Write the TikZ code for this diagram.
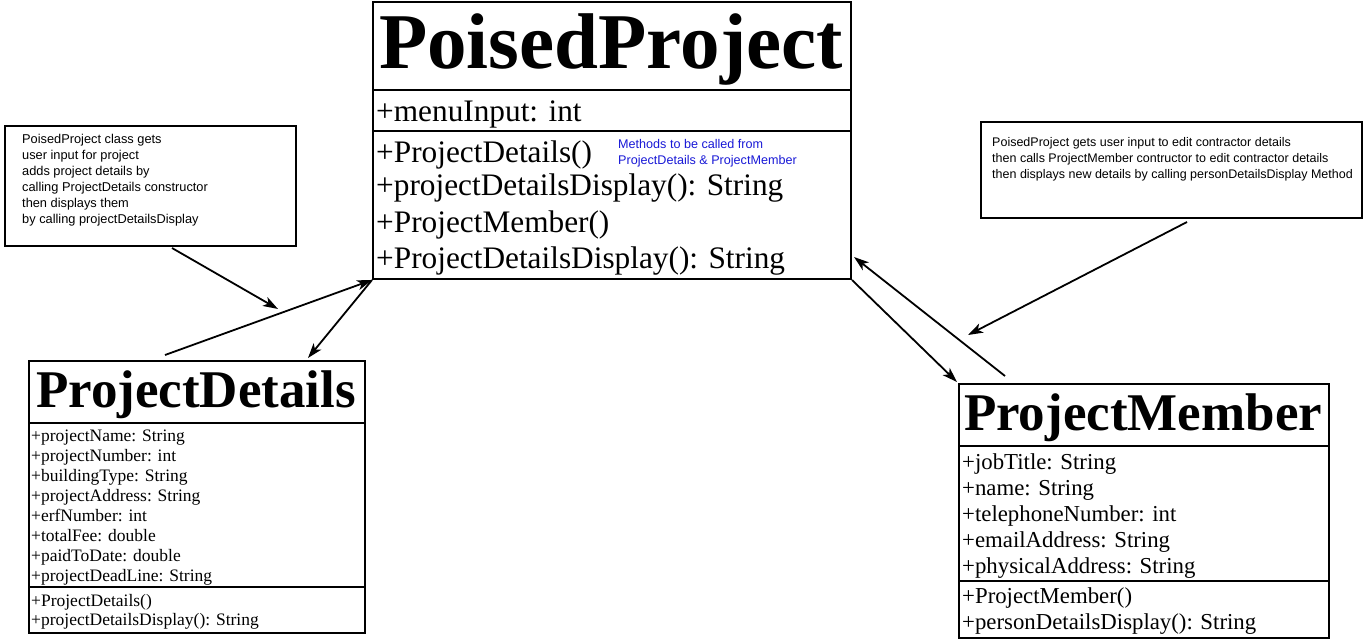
\documentclass[tikz,border=0pt]{standalone}
\usepackage{fontspec}
\setmainfont{Liberation Serif}
\newfontfamily\notefont{Liberation Sans}
\usetikzlibrary{arrows.meta}
\definecolor{noteblue}{RGB}{25,25,215}
\begin{document}
\begin{tikzpicture}[x=1pt,y=-1pt,
  box/.style={draw, line width=2pt, inner sep=0pt, anchor=north west},
  divider/.style={line width=2pt},
  txt/.style={inner sep=0pt, anchor=base west},
  bigtitle/.style={inner sep=0pt, anchor=base, font=\bfseries\fontsize{79}{79}\selectfont},
  ttl/.style={inner sep=0pt, anchor=base, font=\bfseries\fontsize{53}{53}\selectfont},
  ppfont/.style={txt, font=\fontsize{31.3}{32}\selectfont},
  pdfont/.style={txt, font=\fontsize{17.5}{18}\selectfont},
  pmfont/.style={txt, font=\fontsize{22.8}{23}\selectfont},
  note/.style={inner sep=0pt, anchor=base west, font=\notefont\fontsize{12.8}{16}\selectfont},
  rnote/.style={note, font=\notefont\fontsize{12.5}{16}\selectfont},
  bluenote/.style={note, text=noteblue, font=\notefont\fontsize{12.6}{16}\selectfont},
  conn/.style={line width=1.8pt, -{Stealth[length=15pt,width=10pt,inset=4pt]}},
]
\useasboundingbox (0,0) rectangle (1364,640);
\fill[white] (0,0) rectangle (1364,640);

% PoisedProject
\node[box, minimum width=478pt, minimum height=277pt] (pp) at (372,1) {};
\draw[divider] (372,90) -- (850,90);
\draw[divider] (372,131) -- (850,131);
\node[bigtitle] (ppt) at (611,68) {PoisedProject};
\node[ppfont] (ppa) at (376,121) {+menuInput: int};
\node[ppfont] (ppm1) at (376,162) {+ProjectDetails()};
\node[ppfont] (ppm2) at (376,195) {+projectDetailsDisplay(): String};
\node[ppfont] (ppm3) at (376,232) {+ProjectMember()};
\node[ppfont] (ppm4) at (376,268) {+ProjectDetailsDisplay(): String};
\node[bluenote] (bl1) at (618,148) {Methods to be called from};
\node[bluenote] (bl2) at (618,164) {ProjectDetails \& ProjectMember};

% left note
\node[box, minimum width=291pt, minimum height=120pt] (ln) at (4,125) {};
\node[note] (ln1) at (22,143) {PoisedProject class gets};
\node[note] (ln2) at (22,159) {user input for project};
\node[note] (ln3) at (22,175) {adds project details by};
\node[note] (ln4) at (22,191) {calling ProjectDetails constructor};
\node[note] (ln5) at (22,207) {then displays them};
\node[note] (ln6) at (22,223) {by calling projectDetailsDisplay};

% right note
\node[box, minimum width=381pt, minimum height=96pt] (rn) at (980,121) {};
\node[rnote] (rn1) at (992,146) {PoisedProject gets user input to edit contractor details};
\node[rnote] (rn2) at (992,162) {then calls ProjectMember contructor to edit contractor details};
\node[rnote] (rn3) at (992,178) {then displays new details by calling personDetailsDisplay Method};

% ProjectDetails
\node[box, minimum width=336pt, minimum height=272pt] (pd) at (28,360) {};
\draw[divider] (28,423) -- (364,423);
\draw[divider] (28,587) -- (364,587);
\node[ttl] (pdt) at (196,407) {ProjectDetails};
\node[pdfont] (pda1) at (31,441) {+projectName: String};
\node[pdfont] (pda2) at (31,461) {+projectNumber: int};
\node[pdfont] (pda3) at (31,481) {+buildingType: String};
\node[pdfont] (pda4) at (31,501) {+projectAddress: String};
\node[pdfont] (pda5) at (31,521) {+erfNumber: int};
\node[pdfont] (pda6) at (31,541) {+totalFee: double};
\node[pdfont] (pda7) at (31,561) {+paidToDate: double};
\node[pdfont] (pda8) at (31,581) {+projectDeadLine: String};
\node[pdfont] (pdm1) at (31,606) {+ProjectDetails()};
\node[pdfont] (pdm2) at (31,625) {+projectDetailsDisplay(): String};

% ProjectMember
\node[box, minimum width=370pt, minimum height=254pt] (pm) at (958,383) {};
\draw[divider] (958,446) -- (1328,446);
\draw[divider] (958,581) -- (1328,581);
\node[ttl] (pmt) at (1143,430) {ProjectMember};
\node[pmfont] (pma1) at (962,469) {+jobTitle: String};
\node[pmfont] (pma2) at (962,495) {+name: String};
\node[pmfont] (pma3) at (962,521) {+telephoneNumber: int};
\node[pmfont] (pma4) at (962,547) {+emailAddress: String};
\node[pmfont] (pma5) at (962,573) {+physicalAddress: String};
\node[pmfont] (pmm1) at (962,603) {+ProjectMember()};
\node[pmfont] (pmm2) at (962,629) {+personDetailsDisplay(): String};

% connectors
\coordinate (a1s) at (172,248);
\coordinate (a1e) at (278,309);
\coordinate (a2s) at (165,355);
\coordinate (a3e) at (308,358);
\coordinate (a4e) at (957,382);
\coordinate (a5s) at (1005,376);
\coordinate (a5e) at (854,257);
\coordinate (a6s) at (1187,222);
\coordinate (a6e) at (968,335);
\draw[conn] (a1s) -- (a1e);
\draw[conn] (a2s) -- (pp.south west);
\draw[conn] (pp.south west) -- (a3e);
\draw[conn] (pp.south east) -- (a4e);
\draw[conn] (a5s) -- (a5e);
\draw[conn] (a6s) -- (a6e);
\end{tikzpicture}
\end{document}
